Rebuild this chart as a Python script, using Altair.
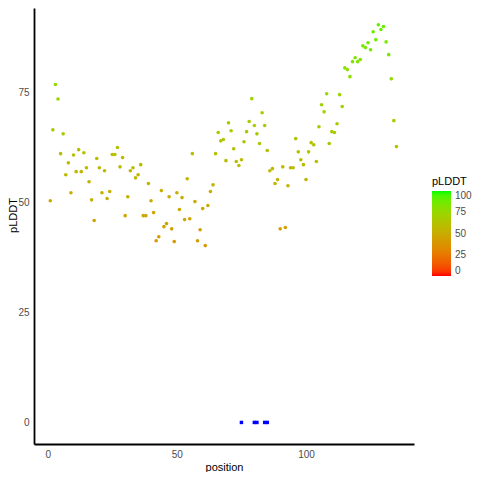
import altair as alt
import pandas as pd

# pLDDT per residue position (positions 1..135)
plddt = [
    50.4, 66.5, 76.8, 73.5, 61.1, 65.6, 56.3, 59.0, 52.2, 60.8,
    57.0, 62.0, 57.0, 61.3, 57.9, 54.7, 50.6, 45.9, 60.0, 57.9,
    52.2, 57.2, 50.9, 52.5, 60.9, 60.9, 62.5, 58.1, 60.2, 47.0,
    51.3, 57.2, 57.9, 55.6, 56.3, 58.6, 47.0, 47.0, 54.3, 50.4,
    47.7, 41.3, 42.2, 52.7, 44.5, 45.2, 51.3, 44.0, 41.1, 52.2,
    48.4, 51.1, 46.1, 55.4, 46.3, 61.1, 50.2, 41.3, 43.8, 48.6,
    40.2, 49.3, 52.5, 54.0, 61.1, 65.9, 64.0, 64.3, 59.5, 68.1,
    66.3, 62.2, 59.3, 58.4, 59.7, 63.8, 66.1, 68.4, 73.6, 67.5,
    65.6, 63.4, 70.4, 67.5, 61.8, 57.2, 57.7, 54.3, 55.2, 44.0,
    58.1, 44.3, 53.8, 57.9, 57.9, 64.5, 61.5, 59.7, 58.6, 55.2,
    61.5, 63.6, 63.1, 59.3, 67.2, 72.2, 70.6, 74.7, 63.4, 66.1,
    65.9, 67.9, 74.5, 71.8, 80.6, 80.2, 78.6, 82.0, 82.9, 82.0,
    82.5, 85.6, 85.2, 86.3, 84.7, 88.8, 87.0, 90.4, 89.3, 90.0,
    86.5, 83.6, 78.1, 68.6, 62.7,
]
positions = list(range(1, len(plddt) + 1))

# marked positions drawn at y = 0
marked_positions = [75, 80, 81, 84, 85]
marked_values = [0, 0, 0, 0, 0]

df = pd.DataFrame({"position": positions, "pLDDT": plddt})
marks_df = pd.DataFrame({"position": marked_positions, "pLDDT": marked_values})

FONT = "Liberation Sans"

x_scale = alt.Scale(domain=[-5.3, 141.8], nice=False, zero=False)
y_scale = alt.Scale(domain=[-4.9, 94.2], nice=False, zero=False)

x_axis = alt.Axis(
    title="position", values=[0, 50, 100], tickSize=0, labelPadding=5,
    titlePadding=2, grid=False, domainColor="black", domainWidth=1.8,
    labelColor="#4D4D4D", labelFontSize=10, titleFontSize=11,
    titleColor="black", titleFontWeight="normal",
)
y_axis = alt.Axis(
    title="pLDDT", values=[0, 25, 50, 75], tickSize=0, labelPadding=5,
    grid=False, domainColor="black", domainWidth=1.8,
    labelColor="#4D4D4D", labelFontSize=10, titleFontSize=11,
    titleColor="black", titleFontWeight="normal",
    titleX=-21, titleY=207, titleBaseline="middle", titleAngle=270,
)

points = alt.Chart(df).mark_circle(size=13, opacity=1).encode(
    x=alt.X("position:Q", scale=x_scale, axis=x_axis),
    y=alt.Y("pLDDT:Q", scale=y_scale, axis=y_axis),
    color=alt.Color(
        "pLDDT:Q",
        scale=alt.Scale(domain=[0, 100], range=["#FF0000", "#00FF00"], interpolate="lab"),
        legend=alt.Legend(
            title="pLDDT", orient="none", legendX=398, legendY=168,
            values=[0, 25, 50, 75, 100], gradientLength=85, gradientThickness=19,
            gradientStrokeWidth=0, titleFontSize=11, titleFontWeight="normal",
            titleColor="black", titlePadding=4, labelFontSize=10,
            labelColor="#4D4D4D", labelOffset=4, direction="vertical",
        ),
    ),
)

squares = alt.Chart(marks_df).mark_square(size=12, opacity=1, color="#0000FF").encode(
    x=alt.X("position:Q", scale=x_scale),
    y=alt.Y("pLDDT:Q", scale=y_scale),
)

chart = alt.layer(points, squares).properties(
    width=380,
    height=436,
    autosize=alt.AutoSizeParams(type="none"),
    padding={"left": 26, "top": 0, "right": 58, "bottom": 28},
).configure(font=FONT).configure_view(stroke=None)

chart.save("out.html", embed_options={"renderer": "svg", "actions": False})
